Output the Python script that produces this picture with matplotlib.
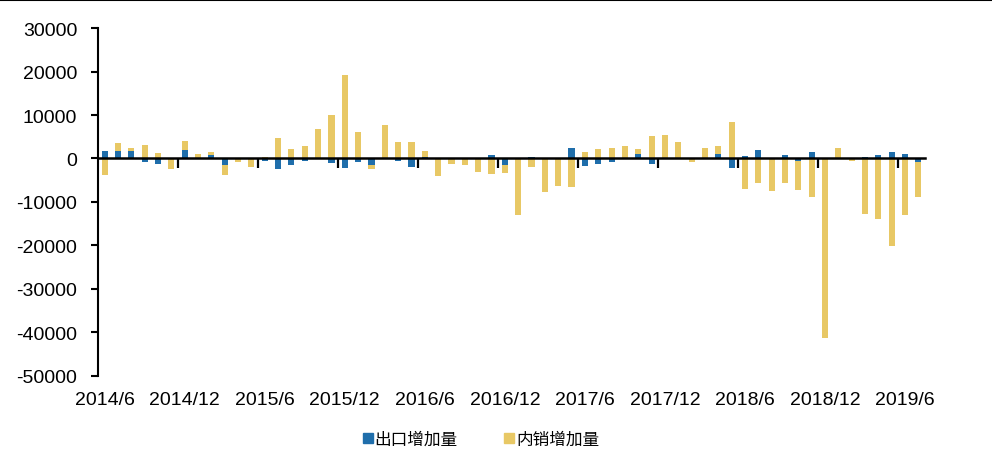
import matplotlib

matplotlib.use("Agg")
import matplotlib.pyplot as plt
from matplotlib.lines import Line2D
from matplotlib.patches import Patch
from matplotlib.transforms import blended_transform_factory

plt.rcParams["font.family"] = ["Liberation Sans", "Noto Sans CJK SC", "DejaVu Sans"]
plt.rcParams["axes.unicode_minus"] = False

# monthly categories 2014/6 .. 2019/7
MONTHS = [f"{y}/{m}" for y in range(2014, 2020) for m in range(1, 13)][5:67]
TICK_LABELS = ["2014/6", "2014/12", "2015/6", "2015/12", "2016/6", "2016/12",
               "2017/6", "2017/12", "2018/6", "2018/12", "2019/6"]

EXPORT_INC = [1770, 1800, 1800, -700, -1250, -100, 2050, 100, 700, -1600,
              -100, -100, -500, -2450, -1450, -650, -200, -1000, -2200, -700,
              -1450, 200, -600, -1850, 400, 100, -50, -100, -100, 700,
              -1600, -50, 300, -50, -50, 2450, -1700, -1250, -700, -50,
              1000, -1250, 50, -50, -50, 50, 1000, -2150, 600, 2000,
              -50, 750, -600, 1450, -50, 50, -50, 450, 700, 1400,
              1000, -850]
DOMESTIC_INC = [-3800, 3650, 2450, 3150, 1300, -2350, 4000, 1000, 1450, -3700,
                -900, -1900, 300, 4650, 2150, 2900, 6800, 10100, 19200, 6200,
                -2350, 7750, 3700, 3900, 1700, -4000, -1300, -1600, -3200, -3600,
                -3350, -13100, -2000, -7650, -6350, -6450, 1550, 2150, 2400, 2850,
                2150, 5150, 5500, 3750, -700, 2400, 2850, 8300, -6900, -5600,
                -7450, -5700, -7300, -8900, -41300, 2300, -500, -12700, -13950, -20100,
                -12950, -8900]

BLUE = "#1f6eab"
YELLOW = "#e8c865"


def main():
    fig = plt.figure(figsize=(9.92, 4.52), dpi=100)
    ax = fig.add_axes([0.0988, 0.166, 0.8337, 0.7698])

    x = list(range(len(MONTHS)))
    ax.bar(x, DOMESTIC_INC, width=0.46, color=YELLOW, zorder=2)
    ax.bar(x, EXPORT_INC, width=0.46, color=BLUE, zorder=3)

    ax.set_xlim(-0.5, len(MONTHS) - 0.5)
    ax.set_ylim(-50000, 30000)
    ax.set_yticks(range(-50000, 30001, 10000))
    ax.tick_params(axis="y", labelsize=14, length=5, width=1.5, pad=10)

    for s in ("top", "right"):
        ax.spines[s].set_visible(False)
    ax.spines["left"].set_linewidth(1.5)
    ax.spines["bottom"].set_position(("data", 0))
    ax.spines["bottom"].set_linewidth(1.8)
    ax.spines["bottom"].set_zorder(4)

    # tick marks on the zero line at category boundaries, labels at bottom
    label_idx = [MONTHS.index(t) for t in TICK_LABELS]
    ax.set_xticks([i - 0.5 for i in label_idx[1:]])
    ax.set_xticklabels([])
    ax.tick_params(axis="x", length=7, width=1.6, direction="out")
    trans = blended_transform_factory(ax.transData, ax.transAxes)
    for i, t in zip(label_idx, TICK_LABELS):
        ax.text(i, -0.067, t, transform=trans, ha="center", va="center",
                fontsize=14)

    handles = [Patch(color=BLUE, label="出口增加量"),
               Patch(color=YELLOW, label="内销增加量")]
    fig.legend(handles=handles, loc="center", bbox_to_anchor=(0.485, 0.026),
               ncol=2, frameon=False, handlelength=0.6, handleheight=0.6,
               handletextpad=0.1, columnspacing=2.8,
               prop={"family": ["Noto Sans CJK SC", "DejaVu Sans"], "size": 12})

    fig.add_artist(Line2D([0, 1], [0.997, 0.997], transform=fig.transFigure,
                          color="black", lw=1.5))
    fig.savefig("out.png", dpi=100)


if __name__ == "__main__":
    main()
